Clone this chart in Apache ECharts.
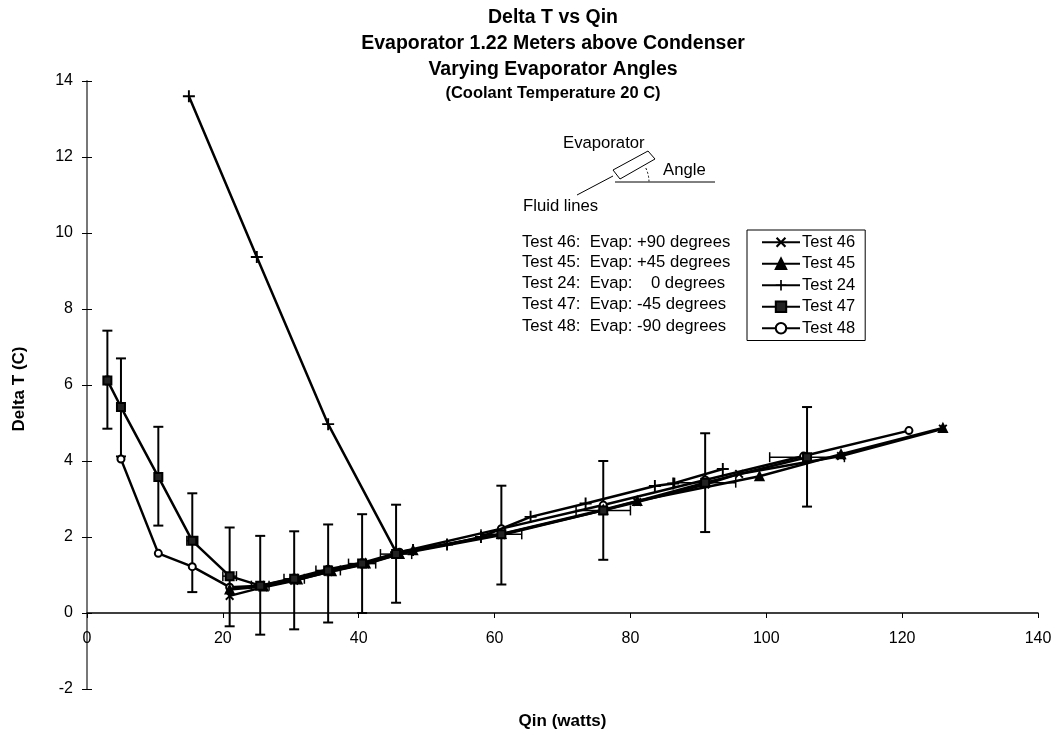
<!DOCTYPE html>
<html><head><meta charset="utf-8">
<style>html,body{margin:0;padding:0;background:#fff}#c{width:1053px;height:731px}</style>
<script src="https://cdn.jsdelivr.net/npm/echarts@6/dist/echarts.min.js"></script>
</head><body><div id="c"></div>
<script>
const test46 = [[21,0.45],[26,0.68],[30.5,0.85],[35.5,1.08],[41,1.28],[46,1.55],[61,2.05],[76,2.7],[81,2.92],[91,3.38],[96,3.66],[111,4.13],[126,4.85]];
const test45 = [[21,0.62],[26,0.7],[31,0.88],[36,1.1],[41,1.3],[46,1.55],[48,1.65],[61,2.08],[76,2.72],[81,2.95],[99,3.6],[111,4.18],[126,4.87]];
const test24 = [[15,13.6],[25,9.37],[35.5,4.97],[45.5,1.6],[48,1.66],[53,1.8],[58,2.0],[65.3,2.53],[73.4,2.88],[83.6,3.34],[86.3,3.41],[93.6,3.79]];
const test47 = [[3,6.12],[5,5.42],[10.5,3.58],[15.5,1.9],[21,0.97],[25.5,0.72],[30.5,0.9],[35.5,1.12],[40.5,1.3],[45.5,1.55],[61,2.07],[76,2.7],[91,3.43],[106,4.1]];
const test48 = [[5,4.05],[10.5,1.57],[15.5,1.22],[21,0.68],[25.5,0.72],[30.5,0.92],[35.5,1.15],[40.5,1.32],[46,1.6],[61,2.22],[76,2.84],[91,3.5],[105.5,4.13],[121,4.8]];
const errX = [3,5,10.5,15.5,21,25.5,30.5,35.5,40.5,45.5,61,76,91,106];
const errLow = [4.85,4.12,2.3,0.55,-0.35,-0.57,-0.43,-0.25,0,0.27,0.75,1.4,2.13,2.8];
const errHigh = [7.43,6.7,4.9,3.15,2.25,2.03,2.15,2.33,2.6,2.85,3.35,4.0,4.73,5.42];
const xErr = [0.2,0.3,0.5,0.8,1,1.3,1.5,1.8,2,2.3,3,4,4.5,5.5];
const titleLines = ['Delta T vs Qin','Evaporator 1.22 Meters above Condenser','Varying Evaporator Angles','(Coolant Temperature 20 C)'];
const noteLines = ['Test 46:  Evap: +90 degrees','Test 45:  Evap: +45 degrees','Test 24:  Evap:    0 degrees','Test 47:  Evap: -45 degrees','Test 48:  Evap: -90 degrees'];
const names = ['Test 46','Test 45','Test 24','Test 47','Test 48'];

const F = '"Liberation Sans", Arial, sans-serif';
const X_ICON = 'path://M1.5,0 L5,3.5 L8.5,0 L10,1.5 L6.5,5 L10,8.5 L8.5,10 L5,6.5 L1.5,10 L0,8.5 L3.5,5 L0,1.5 Z';
const PLUS_ICON = 'path://M4.2,0 H5.8 V4.2 H10 V5.8 H5.8 V10 H4.2 V5.8 H0 V4.2 H4.2 Z';
function line(name, data, symbol, size, fill, z){
  return {name, type:'line', data, symbol, symbolSize:size, showSymbol:true, animation:false, clip:false, z,
    lineStyle:{color:'#000',width:2.5}, itemStyle:{color:fill,borderColor:'#000',borderWidth:symbol.startsWith('path')?0:2}, emphasis:{disabled:true}};
}
const errV = errX.map((x,i)=>[x,errLow[i],errHigh[i]]);
const errH = errX.map((x,i)=>[x,test47[i][1],xErr[i]]);
const stroke = {stroke:'#000',lineWidth:2,fill:'none'};
const chart = echarts.init(document.getElementById('c'),null,{renderer:'canvas'});
const graphicText = (text,x,y,size)=>({type:'text',left:x,top:y,silent:true,style:{text,fill:'#000',font:(size||16.7)+'px '+F}});
chart.setOption({
  animation:false, backgroundColor:'#fff',
  title: titleLines.map((t,i)=>({text:t,left:553,textAlign:'center',top:[8,34,60,85][i],padding:0,
    textStyle:{fontFamily:F,fontWeight:'bold',fontSize:i==3?16.5:19.5,color:'#000'}})),
  grid:{left:87,right:15,top:81,bottom:42,outerBoundsMode:'none'},
  xAxis:[
   {type:'value',min:0,max:140,interval:20,name:'Qin (watts)',nameLocation:'middle',nameGap:24,
    nameTextStyle:{fontFamily:F,fontWeight:'bold',fontSize:17,color:'#000'},
    axisLine:{onZero:true,lineStyle:{color:'#000',width:1.5}},axisTick:{show:true,length:5,lineStyle:{color:'#000'}},
    axisLabel:{margin:-58,fontFamily:F,fontSize:16,color:'#000',showMinLabel:true,showMaxLabel:true},splitLine:{show:false}},
   {type:'value',min:0,max:140,interval:20,axisLine:{show:false,onZero:true},
    axisTick:{show:true,inside:true,length:5,lineStyle:{color:'#000'}},axisLabel:{show:false},splitLine:{show:false}}
  ],
  yAxis:[
   {type:'value',min:-2,max:14,interval:2,name:'Delta T (C)',nameLocation:'middle',nameGap:59,nameRotate:90,
    nameTextStyle:{fontFamily:F,fontWeight:'bold',fontSize:17,color:'#000',padding:[0,8,0,0]},
    axisLine:{show:true,onZero:false,lineStyle:{color:'#777',width:2}},axisTick:{show:true,length:5,lineStyle:{color:'#000'}},
    axisLabel:{margin:14,fontFamily:F,fontSize:16,color:'#000'},splitLine:{show:false}},
   {type:'value',min:-2,max:14,interval:2,position:'left',axisLine:{show:false,onZero:false},
    axisTick:{show:true,inside:true,length:5,lineStyle:{color:'#000'}},axisLabel:{show:false},splitLine:{show:false}}
  ],
  legend:{show:true,orient:'vertical',left:747,top:230,padding:[3,10,3,14],itemGap:3,itemWidth:38,itemHeight:13,
    data:names,borderColor:'#000',borderWidth:1,backgroundColor:'#fff',selectedMode:false,
    textStyle:{fontFamily:F,fontSize:16.5,color:'#000',padding:[0,0,0,-3],lineHeight:18.5}},
  series:[
    line('Test 46',test46,X_ICON,9,'#000',4),
    line('Test 45',test45,'triangle',8,'#000',4),
    line('Test 24',test24,PLUS_ICON,12,'#000',4),
    line('Test 47',test47,'rect',8,'#222',4),
    line('Test 48',test48,'circle',7,'#fff',2),
    {type:'custom',name:'errV',data:errV,clip:false,silent:true,z:1,encode:{x:0,y:[1,2]},
      renderItem:(p,api)=>{const x=api.value(0),a=api.coord([x,api.value(1)]),b=api.coord([x,api.value(2)]);
        return {type:'group',children:[
          {type:'line',shape:{x1:a[0],y1:a[1],x2:b[0],y2:b[1]},style:stroke},
          {type:'line',shape:{x1:a[0]-5,y1:a[1],x2:a[0]+5,y2:a[1]},style:stroke},
          {type:'line',shape:{x1:b[0]-5,y1:b[1],x2:b[0]+5,y2:b[1]},style:stroke}]};}},
    {type:'custom',name:'errH',data:errH,clip:false,silent:true,z:1,encode:{x:0,y:1},
      renderItem:(p,api)=>{const x=api.value(0),y=api.value(1),e=api.value(2),a=api.coord([x-e,y]),b=api.coord([x+e,y]);
        return {type:'group',children:[
          {type:'line',shape:{x1:a[0],y1:a[1],x2:b[0],y2:b[1]},style:{stroke:'#000',lineWidth:1.5,fill:'none'}},
          {type:'line',shape:{x1:a[0],y1:a[1]-5,x2:a[0],y2:a[1]+5},style:{stroke:'#000',lineWidth:1.5}},
          {type:'line',shape:{x1:b[0],y1:b[1]-5,x2:b[0],y2:b[1]+5},style:{stroke:'#000',lineWidth:1.5}}]};}}
  ],
  graphic:[
    graphicText('Evaporator',563,135),
    graphicText('Angle',663,162),
    graphicText('Fluid lines',523,198),
    ...noteLines.map((t,i)=>graphicText(t,522,[234,254,275,296,318][i])),
    {type:'polygon',silent:true,shape:{points:[[613,170],[648,151],[655,159],[620,179]]},style:{fill:'#fff',stroke:'#000',lineWidth:1}},
    {type:'line',silent:true,shape:{x1:577,y1:195,x2:613,y2:176},style:{stroke:'#000',lineWidth:1}},
    {type:'line',silent:true,shape:{x1:615,y1:182,x2:715,y2:182},style:{stroke:'#000',lineWidth:1}},
    {type:'arc',silent:true,shape:{cx:617,cy:182,r:32,startAngle:-0.45,endAngle:-0.02},style:{fill:'none',stroke:'#000',lineWidth:1,lineDash:[2,2]}}
  ]
});
</script></body></html>
